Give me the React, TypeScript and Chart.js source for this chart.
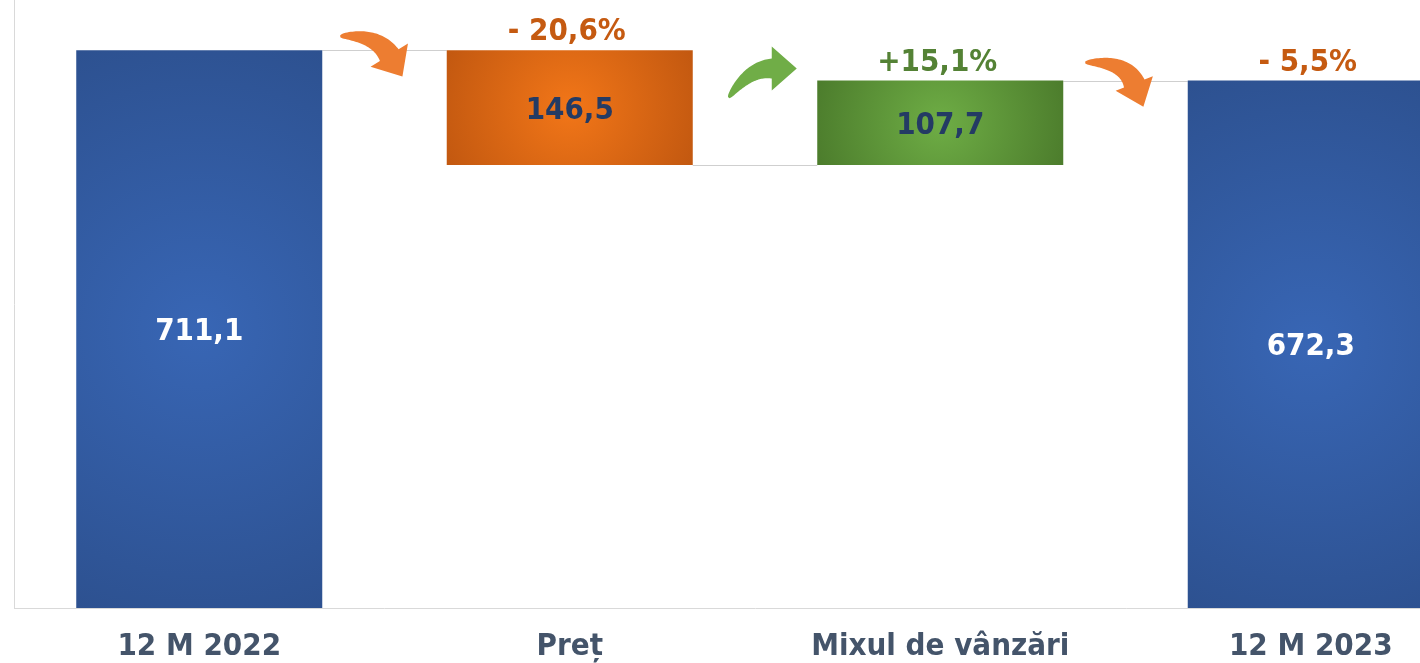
import React, { useEffect, useRef } from "react";
import { Chart, registerables } from "chart.js";

Chart.register(...registerables);

// ---- data ----
const categories = ["12 M 2022", "Preț", "Mixul de vânzări", "12 M 2023"];
const startValue = 711.1;
const changes = [-146.5, 107.7];
const endValue = 672.3;
const valueLabels = ["711,1", "146,5", "107,7", "672,3"];
const pctLabels = ["", "- 20,6%", "+15,1%", "- 5,5%"];

// ---- styles ----
const FONT_FAMILY = '"DejaVu Sans Condensed", "DejaVu Sans", sans-serif';
const FONT_SIZE = 31;
const BAR_PCT = 0.664;
const barColors = [
  ["#3866b5", "#2d5190"],
  ["#f27618", "#c25810"],
  ["#6ead45", "#4c7c2c"],
  ["#3866b5", "#2d5190"],
];
const valueLabelColors = ["#ffffff", "#243b64", "#243b64", "#ffffff"];
const pctColors = ["#c55a11", "#c55a11", "#548235", "#c55a11"];
const arrowColors = ["#ed7d31", "#70ad47", "#ed7d31"];

// build floating ranges from the values
function buildRanges(): [number, number][] {
  const out: [number, number][] = [[0, startValue]];
  let running = startValue;
  for (const c of changes) {
    const next = running + c;
    out.push([Math.min(running, next), Math.max(running, next)]);
    running = next;
  }
  out.push([0, endValue]);
  return out;
}
const ranges = buildRanges();
// level after each bar (for connectors)
const levels = (() => {
  const l = [startValue];
  let r = startValue;
  for (const c of changes) {
    r += c;
    l.push(r);
  }
  return l;
})();

// arrow shapes: offsets relative to previous bar right edge (x) and next bar top (y)
const arrowShapes = [
  { tail: [18, -14], ctrl: [54, -16], end: [67, 5], head: 25, half: 22, shaft: 11 },
  { tail: [36, 17], ctrl: [56, -12], end: [79, -12], head: 25, half: 22, shaft: 10 },
  { tail: [22, -18], ctrl: [62, -20], end: [71, 3], head: 25, half: 20, shaft: 11 },
];

function drawArrow(ctx: CanvasRenderingContext2D, ox: number, oy: number, s: any, color: string) {
  const p0 = [ox + s.tail[0], oy + s.tail[1]];
  const p1 = [ox + s.ctrl[0], oy + s.ctrl[1]];
  const p2 = [ox + s.end[0], oy + s.end[1]];
  const N = 40;
  const left: number[][] = [];
  const right: number[][] = [];
  let lastT = [1, 0];
  for (let i = 0; i <= N; i++) {
    const t = i / N;
    const mt = 1 - t;
    const bx = mt * mt * p0[0] + 2 * mt * t * p1[0] + t * t * p2[0];
    const by = mt * mt * p0[1] + 2 * mt * t * p1[1] + t * t * p2[1];
    let tx = 2 * mt * (p1[0] - p0[0]) + 2 * t * (p2[0] - p1[0]);
    let ty = 2 * mt * (p1[1] - p0[1]) + 2 * t * (p2[1] - p1[1]);
    const len = Math.hypot(tx, ty) || 1;
    tx /= len;
    ty /= len;
    lastT = [tx, ty];
    const nx = -ty;
    const ny = tx;
    const w = 1 + (s.shaft - 1) * Math.pow(t, 0.6);
    left.push([bx + nx * w, by + ny * w]);
    right.push([bx - nx * w, by - ny * w]);
  }
  const nx = -lastT[1];
  const ny = lastT[0];
  ctx.save();
  ctx.fillStyle = color;
  ctx.beginPath();
  ctx.moveTo(left[0][0], left[0][1]);
  for (const p of left) ctx.lineTo(p[0], p[1]);
  ctx.lineTo(p2[0] + nx * s.half, p2[1] + ny * s.half);
  ctx.lineTo(p2[0] + lastT[0] * s.head, p2[1] + lastT[1] * s.head);
  ctx.lineTo(p2[0] - nx * s.half, p2[1] - ny * s.half);
  for (let i = right.length - 1; i >= 0; i--) ctx.lineTo(right[i][0], right[i][1]);
  ctx.closePath();
  ctx.fill();
  ctx.restore();
}

const decorPlugin = {
  id: "decor",
  beforeDatasetsDraw(chart: any) {
    const ctx = chart.ctx;
    const meta = chart.getDatasetMeta(0);
    const y = chart.scales.y;
    ctx.save();
    ctx.strokeStyle = "#cfcfcf";
    ctx.lineWidth = 1;
    for (let i = 0; i < meta.data.length - 1; i++) {
      const a = meta.data[i];
      const b = meta.data[i + 1];
      const py = Math.round(y.getPixelForValue(levels[i])) + 0.5;
      ctx.beginPath();
      ctx.moveTo(a.x + a.width / 2, py);
      ctx.lineTo(b.x - b.width / 2, py);
      ctx.stroke();
    }
    ctx.restore();
  },
  afterDatasetsDraw(chart: any) {
    const ctx = chart.ctx;
    const meta = chart.getDatasetMeta(0);
    const font = `bold ${FONT_SIZE}px ${FONT_FAMILY}`;
    ctx.save();
    ctx.font = font;
    ctx.textAlign = "center";
    meta.data.forEach((el: any, i: number) => {
      const top = Math.min(el.y, el.base);
      const bottom = Math.max(el.y, el.base);
      ctx.fillStyle = valueLabelColors[i];
      ctx.textBaseline = "middle";
      ctx.fillText(valueLabels[i], el.x, (top + bottom) / 2 + 3);
      if (pctLabels[i]) {
        ctx.fillStyle = pctColors[i];
        ctx.textBaseline = "alphabetic";
        ctx.fillText(pctLabels[i], el.x - 3, top - 10);
      }
    });
    ctx.restore();
    for (let i = 0; i < meta.data.length - 1; i++) {
      const a = meta.data[i];
      const b = meta.data[i + 1];
      const ox = a.x + a.width / 2;
      const oy = Math.min(b.y, b.base);
      drawArrow(ctx, ox, oy, arrowShapes[i], arrowColors[i]);
    }
  },
};

function barFill(context: any) {
  const chart = context.chart;
  const i = context.dataIndex;
  const xs = chart.scales.x;
  const ys = chart.scales.y;
  const cols = barColors[i] || barColors[0];
  if (!chart.chartArea || !xs || !ys) return cols[1];
  const r = ranges[i];
  const cx = xs.getPixelForValue(i);
  const y1 = ys.getPixelForValue(r[0]);
  const y2 = ys.getPixelForValue(r[1]);
  const w = (xs.width / categories.length) * BAR_PCT;
  const h = Math.abs(y1 - y2);
  const cy = (y1 + y2) / 2;
  const rad = Math.hypot(w / 2, h / 2);
  const g = chart.ctx.createRadialGradient(cx, cy, 0, cx, cy, rad);
  g.addColorStop(0, cols[0]);
  g.addColorStop(1, cols[1]);
  return g;
}

export default function App() {
  const ref = useRef<HTMLCanvasElement | null>(null);
  useEffect(() => {
    if (!ref.current) return;
    const chart = new Chart(ref.current, {
      type: "bar",
      data: {
        labels: categories,
        datasets: [
          {
            data: ranges as any,
            backgroundColor: barFill as any,
            borderWidth: 0,
            categoryPercentage: 1,
            barPercentage: BAR_PCT,
          },
        ],
      },
      options: {
        responsive: false,
        animation: false,
        layout: { padding: { left: 14, right: 4, top: 0, bottom: 0 } },
        plugins: { legend: { display: false }, tooltip: { enabled: false } },
        scales: {
          x: {
            grid: { display: false, drawTicks: false },
            border: { display: true, color: "#d9d9d9", width: 1 },
            ticks: {
              color: "#44546a",
              font: { family: FONT_FAMILY, size: FONT_SIZE, weight: "bold" },
              padding: 20,
              maxRotation: 0,
              autoSkip: false,
            },
            afterFit: (s: any) => {
              s.height = 55;
            },
          },
          y: {
            min: 0,
            max: 775,
            grid: { display: false, drawTicks: false },
            border: { display: true, color: "#d9d9d9", width: 1 },
            ticks: { display: false },
            afterFit: (s: any) => {
              s.width = 0;
            },
          },
        },
      },
      plugins: [decorPlugin],
    });
    return () => chart.destroy();
  }, []);
  return (
    <div
      style={{
        position: "fixed",
        left: 0,
        top: 0,
        width: 1420,
        height: 663,
        overflow: "hidden",
        background: "#ffffff",
      }}
    >
      <canvas ref={ref} width={1500} height={663} style={{ width: 1500, height: 663, display: "block" }} />
    </div>
  );
}
